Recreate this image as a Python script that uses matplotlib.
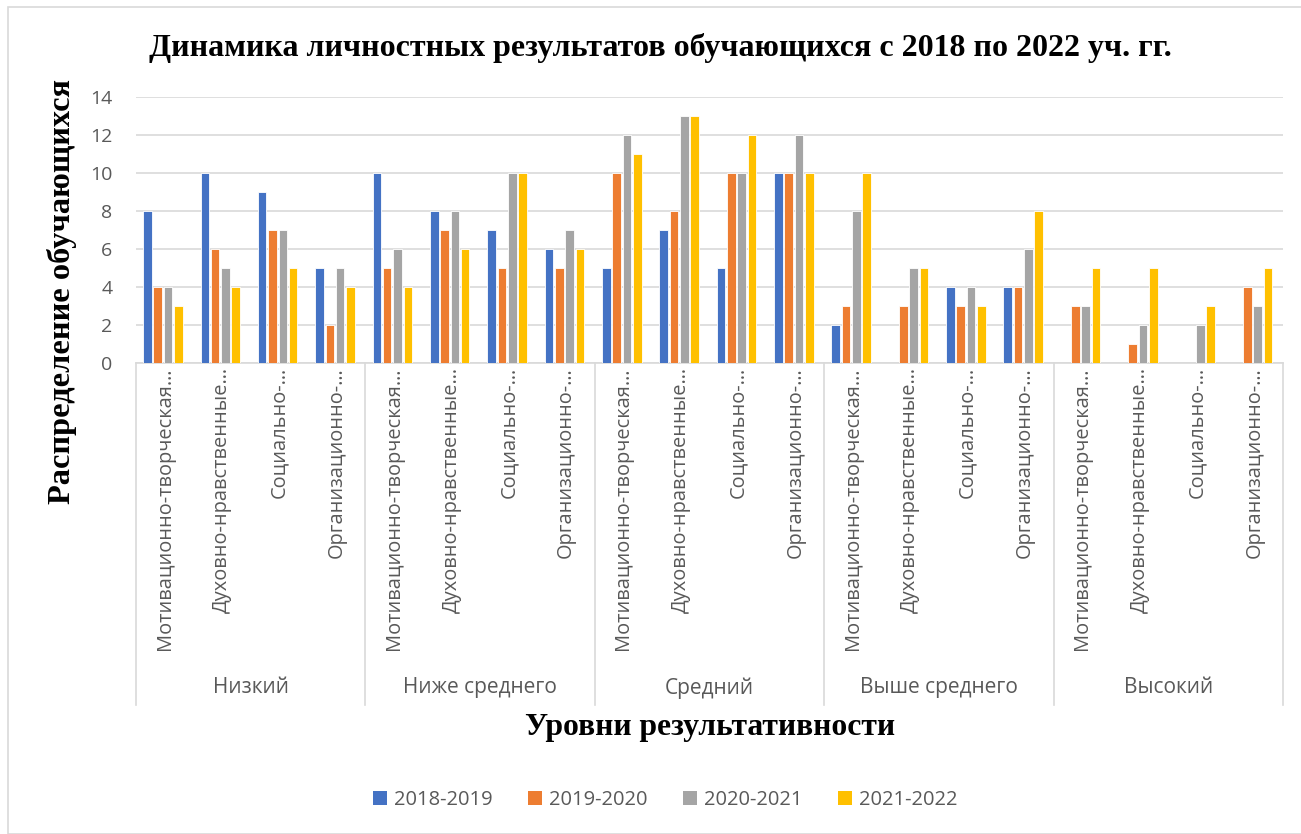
import matplotlib
matplotlib.use("Agg")
import matplotlib.pyplot as plt
import matplotlib.transforms as mtransforms
from matplotlib.patches import Rectangle, Patch
import numpy as np

levels = ["Низкий", "Ниже среднего", "Средний", "Выше среднего", "Высокий"]
subcats = ["Мотивационно-творческая…", "Духовно-нравственные…", "Социально-…", "Организационно-…"]
series = ["2018-2019", "2019-2020", "2020-2021", "2021-2022"]
colors = ["#4472C4", "#ED7D31", "#A5A5A5", "#FFC000"]

v2018 = [8, 10, 9, 5,   10, 8, 7, 6,   5, 7, 5, 10,   2, 0, 4, 4,   0, 0, 0, 0]
v2019 = [4, 6, 7, 2,    5, 7, 5, 5,    10, 8, 10, 10, 3, 3, 3, 4,   3, 1, 0, 4]
v2020 = [4, 5, 7, 5,    6, 8, 10, 7,   12, 13, 10, 12, 8, 5, 4, 6,  3, 2, 2, 3]
v2021 = [3, 4, 5, 4,    4, 6, 10, 6,   11, 13, 12, 10, 10, 5, 3, 8, 5, 5, 3, 5]
values = [v2018, v2019, v2020, v2021]

W, H = 1301, 834
fig = plt.figure(figsize=(W / 100, H / 100), dpi=100)
fig.patch.set_facecolor("white")

# outer chart frame
fig.add_artist(Rectangle((8 / W, 0), 1.0, 1 - 7 / H, transform=fig.transFigure,
                         fill=False, edgecolor="#D9D9D9", linewidth=1.2))

x0, x1, ytop, ybot = 136, 1283, 97, 363
ax = fig.add_axes([x0 / W, 1 - ybot / H, (x1 - x0) / W, (ybot - ytop) / H])

n = len(v2018)
x = np.arange(n)
bw = 0.15
step = 0.18
for k, (vals, col, name) in enumerate(zip(values, colors, series)):
    off = (k - 1.5) * step - 0.03
    ax.bar(x + off, vals, width=bw, color=col, edgecolor="white", linewidth=0.6,
           label=name, zorder=3)

ax.set_xlim(-0.5, n - 0.5)
ax.set_ylim(0, 14)
ax.set_yticks(range(0, 15, 2))
ax.yaxis.grid(True, color="#D9D9D9", linewidth=1.2, zorder=0)
ax.set_axisbelow(True)
for s in ["top", "right", "left"]:
    ax.spines[s].set_visible(False)
ax.spines["bottom"].set_color("#D9D9D9")
ax.spines["bottom"].set_linewidth(1.2)
ax.set_xticks([])
ax.tick_params(axis="y", length=0, pad=17, labelsize=14, labelcolor="#595959")
for lab in ax.get_yticklabels():
    lab.set_fontfamily("Open Sans")

trans = mtransforms.blended_transform_factory(ax.transData, ax.transAxes)
axh = ybot - ytop

# category labels
for i in range(n):
    ax.text(i, (ybot - 367) / axh, subcats[i % 4], transform=trans, rotation=90,
            ha="center", va="top", fontsize=14.4, color="#595959",
            fontfamily="Open Sans", clip_on=False)

# group labels
for g, lev in enumerate(levels):
    ax.text(g * 4 + 1.5, (ybot - 688) / axh, lev, transform=trans, ha="center",
            va="center", fontsize=15, color="#595959", fontfamily="Open Sans",
            clip_on=False)

# separators
for b in [-0.5, 3.5, 7.5, 11.5, 15.5, 19.5]:
    ax.plot([b, b], [0, (ybot - 705) / axh], transform=trans, color="#D9D9D9",
            linewidth=1.2, clip_on=False)

fig.text(660 / W, 1 - 48 / H, "Динамика личностных результатов обучающихся с 2018 по 2022 уч. гг.",
         ha="center", va="center", fontsize=23, fontweight="bold",
         fontfamily="Liberation Serif")
fig.text(62 / W, 1 - 292 / H, "Распределение обучающихся", rotation=90,
         ha="center", va="center", fontsize=23.3, fontweight="bold",
         fontfamily="Liberation Serif")
fig.text(710 / W, 1 - 727 / H, "Уровни результативности", ha="center", va="center",
         fontsize=22.8, fontweight="bold", fontfamily="Liberation Serif")

handles = [Patch(facecolor=c, edgecolor="none", label=s) for c, s in zip(colors, series)]
leg = fig.legend(handles=handles, loc="center", bbox_to_anchor=(665 / W, 1 - 800 / H),
                 ncol=4, frameon=False, handlelength=0.7, handleheight=0.7,
                 handletextpad=0.35, columnspacing=1.75,
                 prop={"family": "Open Sans", "size": 14.5})
for t in leg.get_texts():
    t.set_color("#595959")

fig.savefig("out.png", dpi=100, facecolor="white")
